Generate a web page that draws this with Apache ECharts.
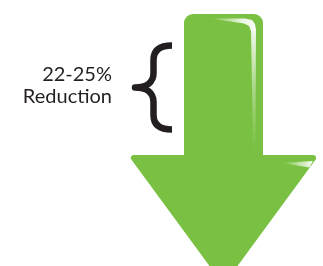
<!DOCTYPE html>
<html lang="en">
<head>
  <meta charset="UTF-8">
  <title>22-25% Reduction</title>
  <script src="https://cdn.jsdelivr.net/npm/echarts@6/dist/echarts.min.js"></script>
  <style>
    html, body { margin: 0; padding: 0; background: #fff; }
    #chart { width: 323px; height: 266px; }
  </style>
</head>
<body>
  <div id="chart"></div>
  <script>
    // the only figures in the picture: the range of the reduction
    const reduction = [22, 25]
    const labelLines = [reduction[0] + '-' + reduction[1] + '%', 'Reduction']

    const green = '#7ac143'
    const ink = '#231f20'

    addEventListener('load', () => {
      let chart = echarts.init(document.querySelector('#chart'))

      // the grid is laid out 1:1 with the canvas, so shapes below use picture units
      function renderArrow(params, api) {
        const p = (x, y) => api.coord([x, y])
        const path = (pts) => pts.map(pt => p(pt[0], pt[1]))
        const [x0, y0] = p(184, 14)
        const [x1, y1] = p(263, 160)
        // curly brace, drawn as a stroked path (M / L / C commands)
        const brace = [
          ['M', 172, 45.5],
          ['C', 160, 45.5, 153.5, 50, 153.5, 60],
          ['L', 153.5, 73],
          ['C', 153.5, 82, 147, 87.5, 135, 87.5],
          ['C', 147, 87.5, 153.5, 93, 153.5, 102],
          ['L', 153.5, 115],
          ['C', 153.5, 125, 160, 129.5, 172, 129.5]
        ]
        const braceD = brace.map(seg => {
          let out = [seg[0]]
          for (let i = 1; i < seg.length; i += 2) {
            const q = p(seg[i], seg[i + 1])
            out.push(q[0].toFixed(2), q[1].toFixed(2))
          }
          return out.join(' ')
        }).join(' ')

        return {
          type: 'group',
          children: [
            { // shaft
              type: 'rect',
              shape: { x: x0, y: y0, width: x1 - x0, height: y1 - y0, r: [9, 9, 0, 0] },
              style: { fill: green }
            },
            { // head
              type: 'polygon',
              shape: { points: path([[133.9, 158], [313.1, 158], [223.5, 280]]) },
              style: { fill: green, stroke: green, lineWidth: 6, lineJoin: 'round' }
            },
            { // gloss along the top
              type: 'polygon',
              shape: { points: path([[210, 18.5], [245, 18.5], [252, 20], [255, 24], [256, 30], [251, 31], [249, 26], [244, 23.5]]) },
              style: {
                fill: new echarts.graphic.LinearGradient(0, 0, 1, 0, [
                  { offset: 0, color: 'rgba(255,255,255,0)' },
                  { offset: 0.7, color: 'rgba(255,255,255,0.85)' },
                  { offset: 1, color: 'rgba(255,255,255,0.95)' }
                ])
              }
            },
            { // gloss down the right side
              type: 'polygon',
              shape: { points: path([[251, 30], [256, 29], [255.5, 150], [253, 150]]) },
              style: {
                fill: new echarts.graphic.LinearGradient(0, 0, 0, 1, [
                  { offset: 0, color: 'rgba(255,255,255,0.9)' },
                  { offset: 0.5, color: 'rgba(255,255,255,0.35)' },
                  { offset: 1, color: 'rgba(255,255,255,0)' }
                ])
              }
            },
            { // gloss on the head
              type: 'polygon',
              shape: { points: path([[282, 163], [313, 161], [309.5, 167.5]]) },
              style: {
                fill: new echarts.graphic.LinearGradient(0, 0, 1, 0, [
                  { offset: 0, color: 'rgba(255,255,255,0)' },
                  { offset: 1, color: 'rgba(255,255,255,0.95)' }
                ])
              }
            },
            { // brace
              type: 'path',
              shape: { pathData: braceD },
              style: { fill: null, stroke: ink, lineWidth: 6.5, lineJoin: 'round' }
            },
            {
              type: 'text',
              style: {
                text: labelLines[0], x: p(112, 0)[0], y: p(0, 75)[1],
                align: 'right', verticalAlign: 'middle',
                font: '20px Lato', fill: ink
              }
            },
            {
              type: 'text',
              style: {
                text: labelLines[1], x: p(112, 0)[0], y: p(0, 97)[1],
                align: 'right', verticalAlign: 'middle',
                font: '20px Lato', fill: ink
              }
            }
          ]
        }
      }

      let option = {
        animation: false,
        grid: { left: 0, right: 0, top: 0, bottom: 0 },
        xAxis: { type: 'value', min: 0, max: 323, show: false },
        yAxis: { type: 'value', min: 0, max: 266, inverse: true, show: false },
        series: [
          {
            type: 'custom',
            clip: false,
            data: [reduction],
            renderItem: renderArrow
          }
        ]
      }
      chart.setOption(option)
    })
  </script>
</body>
</html>
